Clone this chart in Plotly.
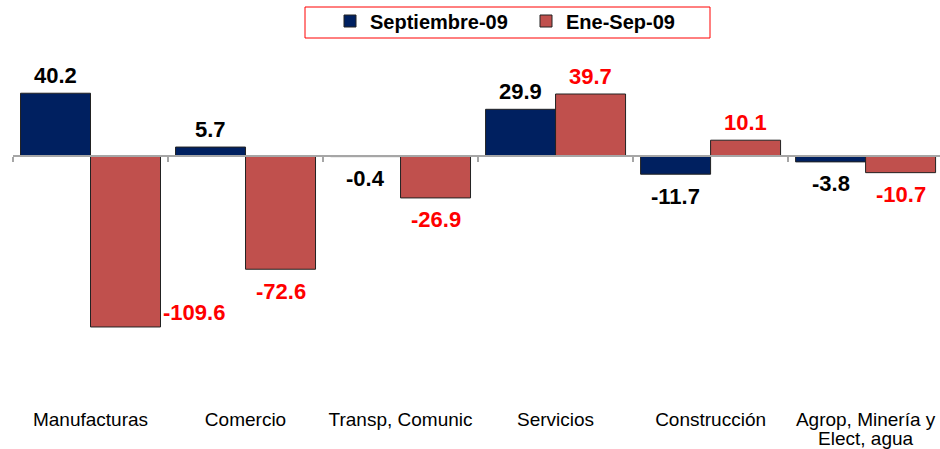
import plotly.graph_objects as go

categories = ["Manufacturas", "Comercio", "Transp, Comunic", "Servicios", "Construcción", "Agrop, Minería y<br>Elect, agua"]
sep09 = [40.2, 5.7, -0.4, 29.9, -11.7, -3.8]
enesep09 = [-109.6, -72.6, -26.9, 39.7, 10.1, -10.7]
series_names = ["Septiembre-09", "Ene-Sep-09"]

BLUE = "#002060"
RED = "#C0504D"
FONT = "Liberation Sans, Arial"
x_idx = list(range(len(categories)))
YMIN, YMAX = -156.4, 67.9
W, H = 940, 449
ML, MT, MB = 13, 50, 49
XR = [-0.5, 5.48]

first_lines = [c.split("<br>")[0] for c in categories]
second_lines = [c.split("<br>")[1] if "<br>" in c else "" for c in categories]

fig = go.Figure()
fig.add_trace(go.Bar(x=x_idx, y=sep09, name="<b>" + series_names[0] + "</b>",
                     marker=dict(color=BLUE, line=dict(color="#222222", width=1))))
fig.add_trace(go.Bar(x=x_idx, y=enesep09, name="<b>" + series_names[1] + "</b>",
                     marker=dict(color=RED, line=dict(color="#222222", width=1))))
# invisible traces to host the helper axes (zero line, second label line)
fig.add_trace(go.Scatter(x=[0], y=[0], xaxis="x2", mode="markers", marker=dict(opacity=0),
                         showlegend=False, hoverinfo="skip"))
fig.add_trace(go.Scatter(x=[0], y=[0], xaxis="x3", mode="markers", marker=dict(opacity=0),
                         showlegend=False, hoverinfo="skip"))

annotations = []
for vals, color, offset in [(sep09, "#000000", -35), (enesep09, "#FF0000", 35)]:
    for i, v in enumerate(vals):
        a = dict(x=i, y=v, xref="x", yref="y", text=f"<b>{v:.1f}</b>", showarrow=False,
                 font=dict(family=FONT, size=22, color=color),
                 xanchor="center", yanchor="middle", xshift=offset,
                 yshift=18 if v >= 0 else -22)
        if v < -100:
            a["xshift"] = 103
            a["yshift"] = 14
        annotations.append(a)

pw = W - ML
ph = H - MT - MB
def px_x(p):
    return (p - ML) / pw
def px_y(p):
    return (H - MB - p) / ph

fig.update_layout(
    width=W, height=H,
    margin=dict(l=ML, r=0, t=MT, b=MB, autoexpand=False),
    paper_bgcolor="white", plot_bgcolor="white",
    barmode="group", bargap=0.097, bargroupgap=0,
    font=dict(family=FONT, color="#000000"),
    xaxis=dict(range=XR, tickvals=x_idx, ticktext=first_lines, showline=False,
               showgrid=False, zeroline=False, ticks="", tickfont=dict(size=19),
               ticklabelstandoff=6, automargin=False),
    xaxis3=dict(overlaying="x", anchor="y", side="bottom", range=XR, tickvals=x_idx,
                ticktext=second_lines, showline=False, showgrid=False, zeroline=False, ticks="",
                tickfont=dict(size=19), ticklabelstandoff=25, automargin=False),
    xaxis2=dict(overlaying="x", anchor="free", position=(0 - YMIN) / (YMAX - YMIN), side="bottom",
                range=XR, tickvals=[i - 0.5 for i in range(7)], showticklabels=False,
                showline=True, linecolor="#A6A6A6", linewidth=1.5, ticks="outside", ticklen=5,
                tickcolor="#A6A6A6", tickwidth=1.5, showgrid=False, zeroline=False, automargin=False),
    yaxis=dict(range=[YMIN, YMAX], visible=False, showgrid=False, zeroline=False, automargin=False),
    legend=dict(orientation="h", xref="container", yref="container", x=330 / W, y=1 - 21 / H,
                xanchor="left", yanchor="middle", borderwidth=0,
                bgcolor="rgba(0,0,0,0)", font=dict(size=20, family=FONT),
                entrywidth=151, itemwidth=30),
    shapes=[dict(type="rect", xref="paper", yref="paper",
                 x0=px_x(305), x1=px_x(710), y0=px_y(38), y1=px_y(7),
                 line=dict(color="#FF0000", width=1), fillcolor="rgba(0,0,0,0)", layer="below")],
    annotations=annotations,
    showlegend=True,
)

fig.write_html("out.html", config={"displayModeBar": False},
               post_script="document.body.style.margin='0';document.body.style.overflow='hidden';")
